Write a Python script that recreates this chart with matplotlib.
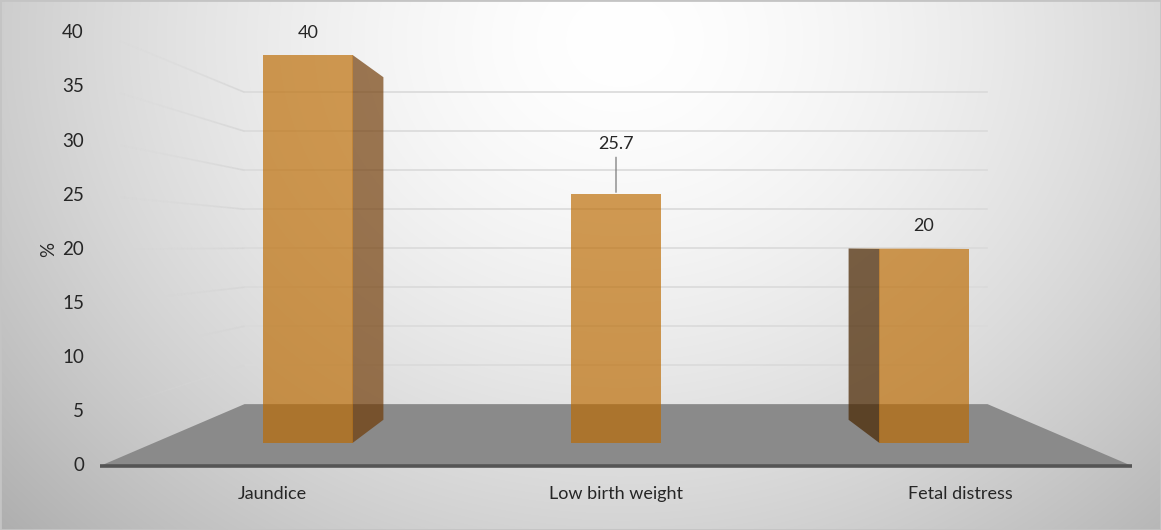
import numpy as np
import matplotlib
matplotlib.use("Agg")
import matplotlib.pyplot as plt
from matplotlib.patches import Polygon, Rectangle
from matplotlib.collections import LineCollection

# ---- data -------------------------------------------------------------
categories = ["Jaundice", "Low birth weight", "Fetal distress"]
values = [40, 25.7, 20]
value_labels = ["40", "25.7", "20"]
y_ticks = [0, 5, 10, 15, 20, 25, 30, 35, 40]
y_label = "%"

# ---- perspective set-up ---------------------------------------------
VX, VY = 1.0, 20.4        # vanishing point in data units
DEPTH_K = 0.389           # perspective shrink per unit depth
BAR_HALF = 0.145          # half bar width (category units)
BAR_Z0, BAR_Z1 = 0.30, 0.68
FLOOR_X0, FLOOR_X1 = -0.5, len(categories) - 0.5


def project(x, y, z):
    s = 1.0 / (1.0 + DEPTH_K * z)
    return VX + s * (x - VX), VY + s * (y - VY)


plt.rcParams["font.family"] = ["Lato", "DejaVu Sans"]
TEXT = "#262626"

W, H = 1161, 530
fig = plt.figure(figsize=(W / 100, H / 100), dpi=100)
ax = fig.add_axes([0, 0, 1, 1])
XLIM = (-0.7907, 2.5843)
YLIM = (-5.91, 43.03)
ax.set_xlim(*XLIM)
ax.set_ylim(*YLIM)
ax.axis("off")

# ---- radial background -----------------------------------------------
px = np.arange(W)[None, :]
py = np.arange(H)[:, None]
r = np.sqrt(((px - 620) / 700.0) ** 2 + ((py - 40) / 600.0) ** 2)
shade = (255 - 60 * np.clip(r, 0, 1.2) ** 1.6) / 255.0
bg = np.dstack([shade, shade, shade])
ax.imshow(bg, extent=(XLIM[0], XLIM[1], YLIM[0], YLIM[1]), origin="upper",
          aspect="auto", zorder=0, interpolation="bilinear")

# ---- floor ------------------------------------------------------------
floor = [project(FLOOR_X0, 0, 0), project(FLOOR_X1, 0, 0),
         project(FLOOR_X1, 0, 1), project(FLOOR_X0, 0, 1)]
ax.add_patch(Polygon(floor, closed=True, facecolor="#8A8A8A",
                     edgecolor="none", zorder=2))
fx0, fy0 = project(FLOOR_X0, 0, 0)
fx1, fy1 = project(FLOOR_X1, 0, 0)
ax.plot([fx0, fx1], [fy0, fy1], color="#555555", lw=2.6,
        solid_capstyle="butt", zorder=3)

# ---- back-wall and side-wall gridlines -------------------------------
for t in y_ticks[1:]:
    bx0, by0 = project(FLOOR_X0, t, 1)
    bx1, by1 = project(FLOOR_X1, t, 1)
    ax.plot([bx0, bx1], [by0, by1], color="#DADADA", lw=1.2, zorder=1)
    zs = np.linspace(1.0, 0.08, 40)
    pts = np.array([project(FLOOR_X0, t, z) for z in zs])
    segs = np.stack([pts[:-1], pts[1:]], axis=1)
    alphas = np.linspace(0.9, 0.0, len(segs))
    cols = [(0.84, 0.84, 0.84, a) for a in alphas]
    ax.add_collection(LineCollection(segs, colors=cols, linewidths=1.2,
                                     zorder=1))

# ---- bars -------------------------------------------------------------
FRONT = "#BC6A00"
RIGHT_SIDE = "#6E3700"
LEFT_SIDE = "#4A2600"
TOP = "#C98A3A"
ALPHA = 0.67

for i, v in enumerate(values):
    x0, x1 = i - BAR_HALF, i + BAR_HALF
    if i < VX - 1e-9:
        side = [project(x1, 0, BAR_Z0), project(x1, 0, BAR_Z1),
                project(x1, v, BAR_Z1), project(x1, v, BAR_Z0)]
        ax.add_patch(Polygon(side, closed=True, facecolor=RIGHT_SIDE,
                             alpha=ALPHA, edgecolor="none", zorder=4))
    elif i > VX + 1e-9:
        side = [project(x0, 0, BAR_Z0), project(x0, 0, BAR_Z1),
                project(x0, v, BAR_Z1), project(x0, v, BAR_Z0)]
        ax.add_patch(Polygon(side, closed=True, facecolor=LEFT_SIDE,
                             alpha=ALPHA + 0.05, edgecolor="none", zorder=4))
    if v < VY:
        top = [project(x0, v, BAR_Z0), project(x1, v, BAR_Z0),
               project(x1, v, BAR_Z1), project(x0, v, BAR_Z1)]
        ax.add_patch(Polygon(top, closed=True, facecolor=TOP,
                             alpha=ALPHA, edgecolor="none", zorder=4))
    front = [project(x0, 0, BAR_Z0), project(x1, 0, BAR_Z0),
             project(x1, v, BAR_Z0), project(x0, v, BAR_Z0)]
    ax.add_patch(Polygon(front, closed=True, facecolor=FRONT,
                         alpha=ALPHA, edgecolor="none", zorder=5))

# ---- value labels -----------------------------------------------------
label_lift = [22, 50, 23]   # pixels above the bar's top edge
for i, (v, lab) in enumerate(zip(values, value_labels)):
    tx, ty = project(i, v, BAR_Z0)
    lift = label_lift[i]
    if lift > 30:
        ax.annotate(lab, xy=(tx, ty), xytext=(0, lift),
                    textcoords="offset pixels", ha="center", va="center",
                    fontsize=13, color=TEXT, zorder=7,
                    arrowprops=dict(arrowstyle="-", color="#7A7A7A", lw=0.9,
                                    shrinkA=2, shrinkB=1))
    else:
        ax.annotate(lab, xy=(tx, ty), xytext=(0, lift),
                    textcoords="offset pixels", ha="center", va="center",
                    fontsize=13, color=TEXT, zorder=7)

# ---- value axis -------------------------------------------------------
for t in y_ticks:
    ax.annotate(str(t), xy=(FLOOR_X0, t), xytext=(-16, 0),
                textcoords="offset pixels", ha="right", va="center",
                fontsize=13.5, color=TEXT, zorder=7)
ax.annotate(y_label, xy=(FLOOR_X0, y_ticks[len(y_ticks) // 2]),
            xytext=(-51, 0), textcoords="offset pixels", ha="center",
            va="center", rotation=90, fontsize=13.5, color=TEXT, zorder=7)

# ---- category labels --------------------------------------------------
for i, c in enumerate(categories):
    ax.annotate(c, xy=(i, 0), xytext=(0, -28), textcoords="offset pixels",
                ha="center", va="center", fontsize=13, color=TEXT, zorder=7)

# thin frame round the chart area
fig.patches.append(Rectangle((0, 0), 1, 1, transform=fig.transFigure,
                             fill=False, edgecolor="#C4C4C4", lw=2.0))

fig.savefig("out.png", dpi=100)
